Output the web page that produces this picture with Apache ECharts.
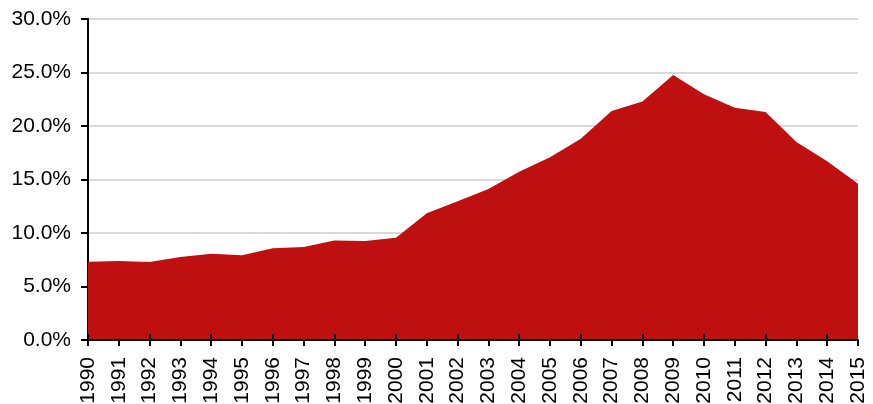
<!DOCTYPE html>
<html><head><meta charset="utf-8">
<script src="https://cdn.jsdelivr.net/npm/echarts@6/dist/echarts.min.js"></script>
<style>html,body{margin:0;padding:0;background:#fff}#c{width:873px;height:404px}</style>
</head><body><div id="c"></div>
<script>
const years = ['1990','1991','1992','1993','1994','1995','1996','1997','1998','1999','2000','2001','2002','2003','2004','2005','2006','2007','2008','2009','2010','2011','2012','2013','2014','2015'];
const shares = [7.32,7.38,7.30,7.76,8.07,7.91,8.57,8.70,9.31,9.25,9.56,11.85,12.97,14.12,15.73,17.07,18.8,21.4,22.3,24.77,22.96,21.7,21.3,18.5,16.7,14.6];
const yTicks = {min:0, max:30, interval:5};

const chart = echarts.init(document.getElementById('c'), null, {renderer:'canvas'});
chart.setOption({
  animation:false,
  grid:{left:88, right:15, top:19, bottom:64, containLabel:false, outerBoundsMode:'none'},
  xAxis:[{
    type:'category', data:years, boundaryGap:false,
    axisLine:{lineStyle:{color:'#000', width:2}},
    axisTick:{show:true, alignWithLabel:true, length:6, lineStyle:{color:'#000', width:2}},
    axisLabel:{rotate:90, color:'#000', fontFamily:'Liberation Sans', fontSize:21, margin:17, interval:0},
    splitLine:{show:false}, z:5
  },{
    type:'category', data:years, boundaryGap:false, position:'bottom',
    axisLine:{show:false},
    axisTick:{show:true, inside:true, alignWithLabel:true, length:6, lineStyle:{color:'#000', width:2}},
    axisLabel:{show:false}, splitLine:{show:false}, z:5
  }],
  yAxis:{
    type:'value', min:yTicks.min, max:yTicks.max, interval:yTicks.interval,
    axisLine:{show:true, lineStyle:{color:'#000', width:2}},
    axisTick:{show:true, length:7, lineStyle:{color:'#000', width:2}},
    axisLabel:{color:'#000', fontFamily:'Liberation Sans', fontSize:21, margin:17,
      formatter:v=>v.toFixed(1)+'%'},
    splitLine:{show:true, lineStyle:{color:'#D9D9D9', width:2}}
  },
  series:[{
    type:'line', data:shares, symbol:'none', xAxisIndex:0,
    lineStyle:{width:0, color:'#BE1010'},
    areaStyle:{color:'#BE1010', opacity:1}
  }]
});
</script></body></html>
